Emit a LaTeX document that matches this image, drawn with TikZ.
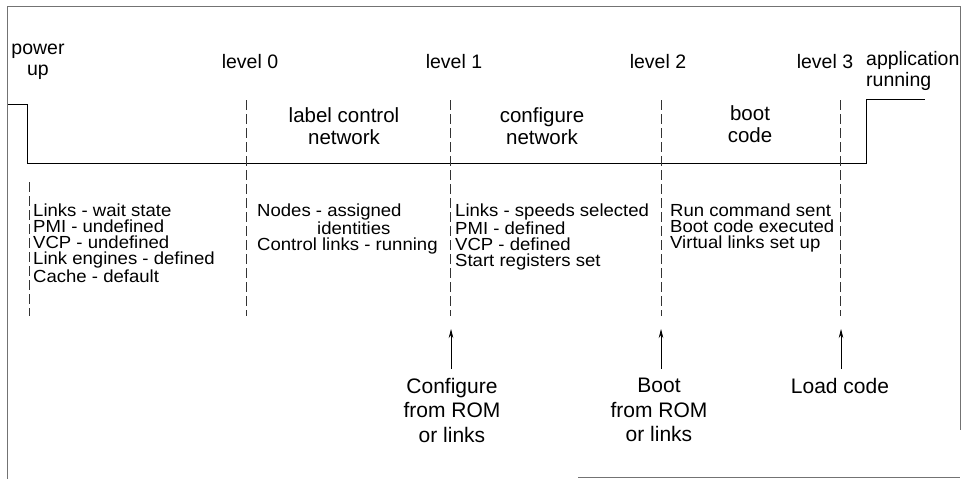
\documentclass[tikz,border=0pt]{standalone}
\usepackage{fontspec}
\setmainfont{Liberation Sans}
\newfontfamily\listfont[FakeStretch=1.06]{Liberation Sans}
\usetikzlibrary{arrows.meta}
\begin{document}
\begin{tikzpicture}[x=1pt,y=-1pt,
  frame/.style={draw=black!55,line width=0.8pt},
  signal/.style={draw=black,line width=0.9pt},
  levelline/.style={draw=black!80,line width=0.6pt,dash pattern=on 10pt off 4pt},
  upar/.style={draw=black,line width=0.7pt,-{Stealth[length=9pt,width=4.5pt]}},
  lbl/.style={font=\fontsize{19.5}{21}\selectfont,align=center,inner sep=0pt},
  phase/.style={font=\fontsize{20.5}{21.5}\selectfont,align=center,inner sep=0pt},
  lstbox/.style={font=\listfont\fontsize{17.5}{16}\selectfont,align=left,anchor=north west,inner sep=0pt},
  srcbox/.style={font=\fontsize{21}{24.5}\selectfont,align=center,anchor=north,inner sep=0pt}]
\useasboundingbox (0,0) rectangle (964,479);

% scanned frame
\draw[frame] (7,479) -- (7,6) -- (960,6) -- (960,430);
\draw[frame] (578,477) -- (960,477);

% top labels
\node[lbl] (pwr) at (38,62) {power\\up};
\node[lbl] (l0) at (250,62) {level 0};
\node[lbl] (l1) at (454,62) {level 1};
\node[lbl] (l2) at (658,62) {level 2};
\node[lbl] (l3) at (825,62) {level 3};
\node[lbl,align=left,anchor=west] (app) at (866,71) {application\\running};

% phase labels
\node[phase] (ph0) at (344,126) {label control\\network};
\node[phase] (ph1) at (542,126) {configure\\network};
\node[phase] (ph2) at (750,124) {boot\\code};

% signal step
\coordinate (s0) at (8,104);
\coordinate (s1) at (27,104);
\coordinate (s2) at (27,163);
\coordinate (s3) at (866,163);
\coordinate (s4) at (866,99);
\coordinate (s5) at (925,99);
\draw[signal] (s0) -- (s1) -- (s2) -- (s3) -- (s4) -- (s5);

% level dashed lines
\coordinate (d0t) at (29,182);  \coordinate (d0b) at (29,316);
\coordinate (d1t) at (246,100); \coordinate (d1b) at (246,316);
\coordinate (d2t) at (450,100); \coordinate (d2b) at (450,316);
\coordinate (d3t) at (661,100); \coordinate (d3b) at (661,316);
\coordinate (d4t) at (840,100); \coordinate (d4b) at (840,316);
\draw[levelline] (d0t) -- (d0b);
\draw[levelline] (d1t) -- (d1b);
\draw[levelline] (d2t) -- (d2b);
\draw[levelline] (d3t) -- (d3b);
\draw[levelline] (d4t) -- (d4b);

% state lists
\node[lstbox] (st0) at (33,204) {Links - wait state\\PMI - undefined\\VCP - undefined\\Link engines - defined\\Cache - default};
\node[lstbox] (st1) at (257,204) {Nodes - assigned\\\hspace*{60pt}identities\\Control links - running};
\node[lstbox] (st2) at (455,204) {Links - speeds selected\\PMI - defined\\VCP - defined\\Start registers set};
\node[lstbox] (st3) at (670,204) {Run command sent\\Boot code executed\\Virtual links set up};

% sources and arrows
\node[srcbox] (cfg) at (452,378) {Configure\\from ROM\\or links};
\node[srcbox] (boot) at (659,378) {Boot\\from ROM\\or links};
\node[srcbox] (load) at (840,378) {Load code};
\coordinate (t1) at (451,329);
\coordinate (t2) at (661,329);
\coordinate (t3) at (841,329);
\draw[upar] (cfg.north -| t1) ++(0,-9) -- (t1);
\draw[upar] (boot.north -| t2) ++(0,-9) -- (t2);
\draw[upar] (load.north -| t3) ++(0,-9) -- (t3);
\end{tikzpicture}
\end{document}
